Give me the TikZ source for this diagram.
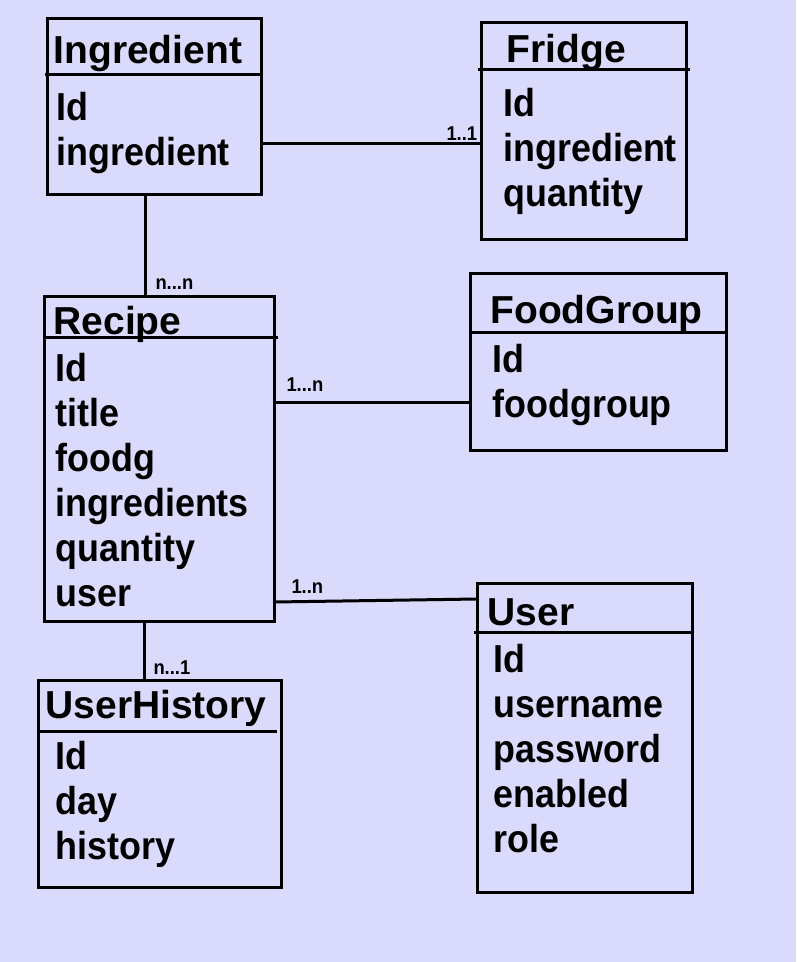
\documentclass[tikz,border=0pt]{standalone}
\usepackage{fontspec}
\setmainfont{Liberation Sans}
\newfontfamily\fieldfont[FakeStretch=0.92]{Liberation Sans}
\definecolor{bglavender}{RGB}{218,218,252}

\begin{document}
\begin{tikzpicture}[x=1pt,y=-1pt,line width=3pt,
  entity/.style={draw,rectangle,inner sep=0pt,outer sep=0pt,anchor=north west},
  title/.style={anchor=base west,inner sep=0pt,font=\fontsize{39}{45}\selectfont\bfseries},
  field/.style={anchor=base west,inner sep=0pt,font=\fieldfont\fontsize{39}{45}\selectfont\bfseries},
  mult/.style={anchor=base west,inner sep=0pt,font=\fieldfont\fontsize{20}{22}\selectfont\bfseries}]
  % Background
  \fill[bglavender] (0,0) rectangle (796,962);
  \useasboundingbox (0,0) rectangle (796,962);

  % Ingredient
  \node[entity,minimum width=214pt,minimum height=176pt] (ingredient) at (47,18) {};
  \draw (45,74) -- (262,74);
  \node[title] (ingredient-title) at (52,63) {Ingredient};
  \foreach \f [count=\i] in {Id,ingredient}
    \node[field] (ingredient-\i) at (55,75+45*\i) {\f};

  % Fridge
  \node[entity,minimum width=205pt,minimum height=217pt] (fridge) at (481,22) {};
  \draw (478,69) -- (690,69);
  \node[title] (fridge-title) at (505,62) {Fridge};
  \foreach \f [count=\i] in {Id,ingredient,quantity}
    \node[field] (fridge-\i) at (502,71+45*\i) {\f};

  % FoodGroup
  \node[entity,minimum width=256pt,minimum height=177pt] (foodgroup) at (470,273) {};
  \draw (470,332) -- (726,332);
  \node[title] (foodgroup-title) at (489,323) {FoodGroup};
  \foreach \f [count=\i] in {Id,foodgroup}
    \node[field] (foodgroup-\i) at (491,327+45*\i) {\f};

  % Recipe
  \node[entity,minimum width=230pt,minimum height=325pt] (recipe) at (44,296) {};
  \draw (44,337) -- (278,337);
  \node[title] (recipe-title) at (52,334) {Recipe};
  \foreach \f [count=\i] in {Id,title,foodg,ingredients,quantity,user}
    \node[field] (recipe-\i) at (54,336+45*\i) {\f};

  % User
  \node[entity,minimum width=215pt,minimum height=309pt] (user) at (477,583) {};
  \draw (474,632) -- (692,632);
  \node[title] (user-title) at (486,625) {User};
  \foreach \f [count=\i] in {Id,username,password,enabled,role}
    \node[field] (user-\i) at (492,627+45*\i) {\f};

  % UserHistory
  \node[entity,minimum width=243pt,minimum height=207pt] (userhistory) at (38,680) {};
  \draw (38,731) -- (277,731);
  \node[title] (userhistory-title) at (44,718) {UserHistory};
  \foreach \f [count=\i] in {Id,day,history}
    \node[field] (userhistory-\i) at (54,724+45*\i) {\f};

  % Relations
  \draw (ingredient.east |- 0,143) -- (fridge.west |- 0,143);
  \node[mult] (ingredient-fridge) at (445,140) {1..1};
  \draw (ingredient.south -| 145,0) -- (recipe.north -| 145,0);
  \node[mult] (ingredient-recipe) at (154,289) {n...n};
  \draw (recipe.east |- 0,402) -- (foodgroup.west |- 0,402);
  \node[mult] (recipe-foodgroup) at (285,391) {1...n};
  \draw (recipe.east |- 0,602) -- (user.west |- 0,599);
  \node[mult] (recipe-user) at (290,593) {1..n};
  \draw (recipe.south -| 144,0) -- (userhistory.north -| 144,0);
  \node[mult] (recipe-userhistory) at (152,674) {n...1};
\end{tikzpicture}
\end{document}
